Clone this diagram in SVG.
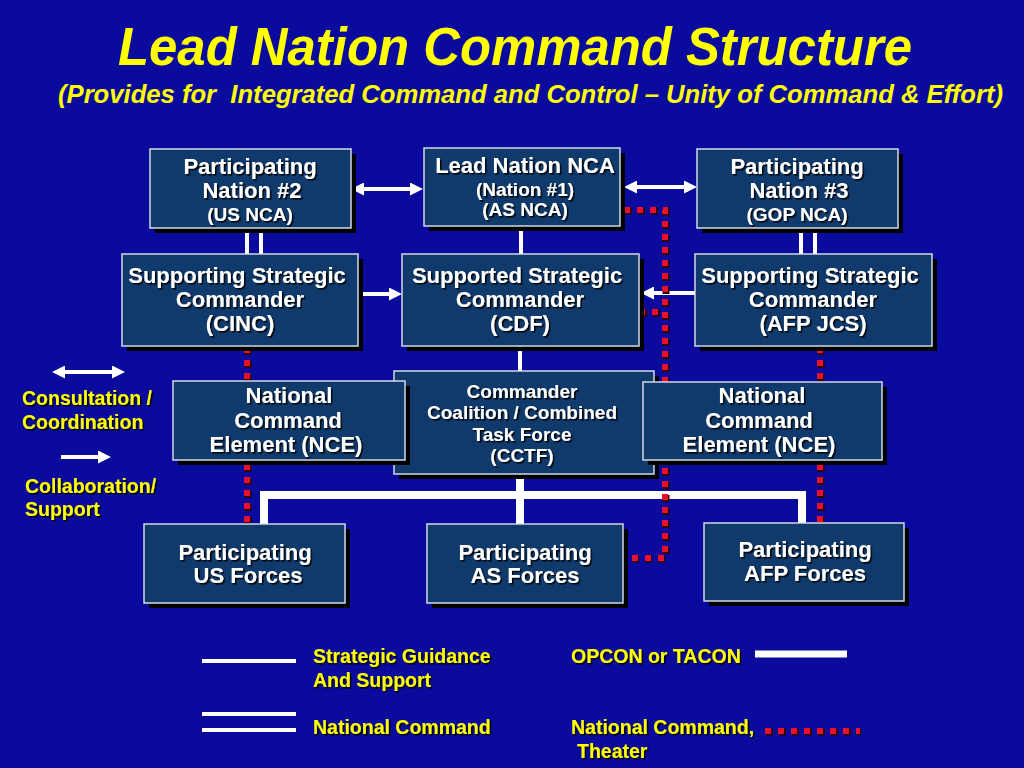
<svg xmlns="http://www.w3.org/2000/svg" width="1024" height="768" viewBox="0 0 1024 768">
<defs>
<filter id="ts" x="-10%" y="-20%" width="130%" height="150%"><feDropShadow dx="1.6" dy="1.6" stdDeviation="0.4" flood-color="#000" flood-opacity="0.9"/></filter>
<marker id="ah" viewBox="0 0 13 13" refX="3" refY="6.5" markerWidth="13" markerHeight="13" markerUnits="userSpaceOnUse" orient="auto-start-reverse"><path d="M0,0 L13,6.5 L0,13 z" fill="#fff"/></marker>
<style>
.box{fill:#0f3a6b;stroke:#d4d8e4;stroke-width:1.5}
.sh{fill:#000}
.t{font-family:"Liberation Sans",Arial,sans-serif;font-weight:bold;fill:#fff;text-anchor:middle;filter:url(#ts)}
.b{font-size:22px}
.s{font-size:19px}
.y{font-family:"Liberation Sans",Arial,sans-serif;font-weight:bold;fill:#ffff00;font-size:19.5px;filter:url(#ts)}
.w{stroke:#fff;fill:none;stroke-width:4}
.op{stroke:#fff;fill:none;stroke-width:8}
.ar{stroke:#fff;fill:none;stroke-width:4;marker-end:url(#ah)}
.ar2{stroke:#fff;fill:none;stroke-width:4;marker-end:url(#ah);marker-start:url(#ah)}
.rd0{stroke:#300;fill:none;stroke-width:7;stroke-dasharray:7 6}
.rd{stroke:#e8102c;fill:none;stroke-width:6;stroke-dasharray:6 7}
</style>
</defs>
<rect width="1024" height="768" fill="#0a0a9c"/>
<g id="title">
<text x="118" y="65" font-family="'Liberation Sans',Arial,sans-serif" font-weight="bold" font-style="italic" font-size="54" fill="#ffff00" textLength="794" lengthAdjust="spacingAndGlyphs">Lead Nation Command Structure</text>
<text x="58" y="103" font-family="'Liberation Sans',Arial,sans-serif" font-weight="bold" font-style="italic" font-size="25" fill="#ffff00" textLength="945" lengthAdjust="spacingAndGlyphs" xml:space="preserve">(Provides for  Integrated Command and Control – Unity of Command &amp; Effort)</text>
</g>
<g id="connectors">
<path class="w" d="M247,228 V255 M261,228 V255"/>
<path class="w" d="M801,228 V255 M815,228 V255"/>
<path class="w" d="M521,226 V255 M520,346 V372"/>
<path class="op" d="M520,474 V524 M264,524 V495 H802 V523"/>
<path class="ar2" d="M361,189 H413"/>
<path class="ar2" d="M634,187 H687"/>
<path class="ar" d="M363,294 H392"/>
<path class="ar" d="M700,293 H651"/>
<g transform="translate(1,1)"><path class="rd0" d="M247,347 V524"/><path class="rd0" d="M624,210 H665 V558 H623 M639,312 H665"/><path class="rd0" d="M820,347 V523"/></g>
<path class="rd" d="M247,347 V524"/>
<path class="rd" d="M624,210 H665 V558 H623 M639,312 H665"/>
<path class="rd" d="M820,347 V523"/>
</g>
<g id="pn2"><rect class="sh" x="155" y="154" width="201" height="79"/><rect class="box" x="150" y="149" width="201" height="79"/>
<text class="t b" x="250" y="174">Participating</text><text class="t b" x="252" y="198">Nation #2</text><text class="t s" x="250" y="221">(US NCA)</text></g>
<g id="lead"><rect class="sh" x="429" y="153" width="196" height="78"/><rect class="box" x="424" y="148" width="196" height="78"/>
<text class="t b" x="525" y="173">Lead Nation NCA</text><text class="t s" x="525" y="196">(Nation #1)</text><text class="t s" x="525" y="216">(AS NCA)</text></g>
<g id="pn3"><rect class="sh" x="702" y="154" width="201" height="79"/><rect class="box" x="697" y="149" width="201" height="79"/>
<text class="t b" x="797" y="174">Participating</text><text class="t b" x="799" y="198">Nation #3</text><text class="t s" x="797" y="221">(GOP NCA)</text></g>
<g id="cinc"><rect class="sh" x="127" y="259" width="236" height="92"/><rect class="box" x="122" y="254" width="236" height="92"/>
<text class="t b" x="237" y="283">Supporting Strategic</text><text class="t b" x="240" y="307">Commander</text><text class="t b" x="240" y="331">(CINC)</text></g>
<g id="cdf"><rect class="sh" x="407" y="259" width="237" height="92"/><rect class="box" x="402" y="254" width="237" height="92"/>
<text class="t b" x="517" y="283">Supported Strategic</text><text class="t b" x="520" y="307">Commander</text><text class="t b" x="520" y="331">(CDF)</text></g>
<g id="afp"><rect class="sh" x="700" y="259" width="237" height="92"/><rect class="box" x="695" y="254" width="237" height="92"/>
<text class="t b" x="810" y="283">Supporting Strategic</text><text class="t b" x="813" y="307">Commander</text><text class="t b" x="813" y="331">(AFP JCS)</text></g>
<g id="cctf"><rect class="sh" x="399" y="376" width="260" height="103"/><rect class="box" x="394" y="371" width="260" height="103"/>
<text class="t s" x="522" y="398">Commander</text><text class="t s" x="522" y="419">Coalition / Combined</text><text class="t s" x="522" y="441">Task Force</text><text class="t s" x="522" y="462">(CCTF)</text></g>
<g id="nce1"><rect class="sh" x="178" y="386" width="232" height="79"/><rect class="box" x="173" y="381" width="232" height="79"/>
<text class="t b" x="289" y="403">National</text><text class="t b" x="288" y="428">Command</text><text class="t b" x="286" y="452">Element (NCE)</text></g>
<g id="nce2"><rect class="sh" x="648" y="387" width="239" height="78"/><rect class="box" x="643" y="382" width="239" height="78"/>
<text class="t b" x="762" y="403">National</text><text class="t b" x="759" y="428">Command</text><text class="t b" x="759" y="452">Element (NCE)</text></g>
<g id="usf"><rect class="sh" x="149" y="529" width="201" height="79"/><rect class="box" x="144" y="524" width="201" height="79"/>
<text class="t b" x="245" y="560">Participating</text><text class="t b" x="248" y="583">US Forces</text></g>
<g id="asf"><rect class="sh" x="432" y="529" width="196" height="79"/><rect class="box" x="427" y="524" width="196" height="79"/>
<text class="t b" x="525" y="560">Participating</text><text class="t b" x="525" y="583">AS Forces</text></g>
<g id="afpf"><rect class="sh" x="709" y="528" width="200" height="78"/><rect class="box" x="704" y="523" width="200" height="78"/>
<text class="t b" x="805" y="557">Participating</text><text class="t b" x="805" y="581">AFP Forces</text></g>
<g id="legend">
<path class="ar2" d="M62,372 H115"/>
<text class="y" x="22" y="405">Consultation /</text><text class="y" x="22" y="429">Coordination</text>
<path class="ar" d="M61,457 H101"/>
<text class="y" x="25" y="493">Collaboration/</text><text class="y" x="25" y="516">Support</text>
<path class="w" d="M202,661 H296"/>
<text class="y" x="313" y="663">Strategic Guidance</text><text class="y" x="313" y="687">And Support</text>
<path class="w" d="M202,714 H296 M202,730 H296"/>
<text class="y" x="313" y="734">National Command</text>
<text class="y" x="571" y="663">OPCON or TACON</text>
<path stroke="#fff" stroke-width="7" d="M755,654 H847"/>
<text class="y" x="571" y="734">National Command,</text><text class="y" x="577" y="758">Theater</text>
<path class="rd0" d="M766,732 H861"/><path class="rd" d="M765,731 H860"/>
</g>
</svg>
